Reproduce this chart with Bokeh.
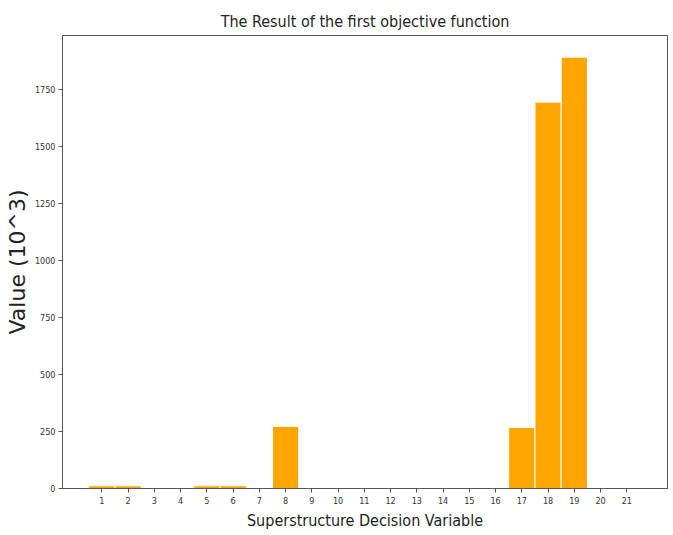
from bokeh.plotting import figure
from bokeh.embed import file_html
from bokeh.resources import INLINE
from bokeh.models import ColumnDataSource, FixedTicker, Range1d

variables = list(range(1, 22))
values = [12, 12, 0, 0, 12, 12, 0, 272, 0, 0, 0, 0, 0, 0, 0, 0, 267, 1693, 1890, 0, 0]
y_ticks = [0, 250, 500, 750, 1000, 1250, 1500, 1750]

src = ColumnDataSource(dict(x=variables, top=values))

FONT = "DejaVu Sans Condensed, DejaVu Sans"

p = figure(width=673, height=535, output_backend="svg", toolbar_location=None,
           x_range=Range1d(-0.5, 22.55), y_range=Range1d(0, 1985),
           min_border_left=62, min_border_right=6, min_border_top=35, min_border_bottom=47,
           title="The Result of the first objective function")

p.vbar(x="x", top="top", width=1.0, source=src, fill_color="#FFA500",
       line_color="white", line_width=1)

p.title.align = "center"
p.title.text_font = FONT
p.title.text_font_size = "16px"
p.title.text_font_style = "normal"
p.title.text_color = "#222222"
p.title.standoff = 10

p.xaxis.axis_label = "Superstructure Decision Variable"
p.yaxis.axis_label = "Value (10^3)"
p.xaxis.ticker = FixedTicker(ticks=variables)
p.yaxis.ticker = FixedTicker(ticks=y_ticks)
p.xaxis.minor_tick_line_color = None
p.yaxis.minor_tick_line_color = None
for ax in (p.xaxis, p.yaxis):
    ax.axis_label_text_font = FONT
    ax.axis_label_text_font_style = "normal"
    ax.axis_label_text_color = "#222222"
    ax.major_label_text_font = FONT
    ax.major_label_text_font_size = "9px"
    ax.major_label_text_color = "#333333"
    ax.axis_line_color = "#555555"
    ax.major_tick_line_color = "#555555"
    ax.major_tick_in = 0
    ax.major_tick_out = 4
    ax.major_label_standoff = 4
p.yaxis.major_label_standoff = 3
p.xaxis.axis_label_text_font_size = "16px"
p.yaxis.axis_label_text_font = "DejaVu Sans"
p.yaxis.axis_label_text_font_size = "22px"
p.xaxis.axis_label_standoff = 4
p.yaxis.axis_label_standoff = 2

p.xgrid.grid_line_color = None
p.ygrid.grid_line_color = None
p.outline_line_color = "#555555"
p.outline_line_alpha = 1

open("out.html", "w").write(file_html(p, INLINE))
